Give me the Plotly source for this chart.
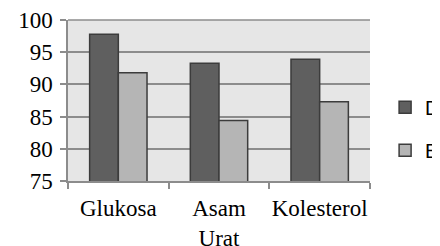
import plotly.graph_objects as go

categories = ["Glukosa", "Asam<br>Urat", "Kolesterol"]
series_d = [97.8, 93.3, 93.9]
series_b = [91.8, 84.4, 87.3]
names = ["D", "B"]
y_ticks = [75, 80, 85, 90, 95, 100]

SERIF = "Liberation Serif"

fig = go.Figure()
fig.add_trace(go.Bar(x=categories, y=series_d, name=names[0], legendgroup="a",
                     marker=dict(color="#5f5f5f", line=dict(color="#3c3c3c", width=1.5))))
fig.add_trace(go.Bar(x=categories, y=series_b, name=names[1], legendgroup="b",
                     marker=dict(color="#b5b5b5", line=dict(color="#3c3c3c", width=1.5))))

fig.update_layout(
    width=440, height=246,
    margin=dict(l=60, r=78, t=12, b=73, autoexpand=False),
    paper_bgcolor="white", plot_bgcolor="#e6e6e6",
    barmode="group", bargap=0.43, bargroupgap=0,
    showlegend=True,
    legend=dict(x=1.05, y=0.324, xanchor="left", yanchor="middle",
                font=dict(family="Liberation Sans", size=20, color="black"),
                tracegroupgap=14, bgcolor="rgba(0,0,0,0)"),
    font=dict(family=SERIF, size=23, color="black"),
)
fig.update_yaxes(range=[75, 100], tickvals=y_ticks, showgrid=True, gridcolor="#8c8c8c", gridwidth=1.5,
                 showline=True, linecolor="#8c8c8c", linewidth=1.5, ticks="outside", ticklen=6,
                 tickcolor="#8c8c8c", tickwidth=1.5, ticklabelstandoff=3, zeroline=False,
                 tickfont=dict(family=SERIF, size=23, color="black"))
fig.update_xaxes(showline=True, linecolor="#8c8c8c", linewidth=1.5, ticks="outside", ticklen=6,
                 tickcolor="#8c8c8c", tickwidth=1.5, tickson="boundaries", showgrid=False,
                 tickangle=0, ticklabelstandoff=6,
                 tickfont=dict(family=SERIF, size=23, color="black"))
fig.add_shape(type="line", xref="paper", yref="paper", x0=0, x1=1, y0=1, y1=1,
              line=dict(color="#8c8c8c", width=1.5))

fig.write_html("out.html")
